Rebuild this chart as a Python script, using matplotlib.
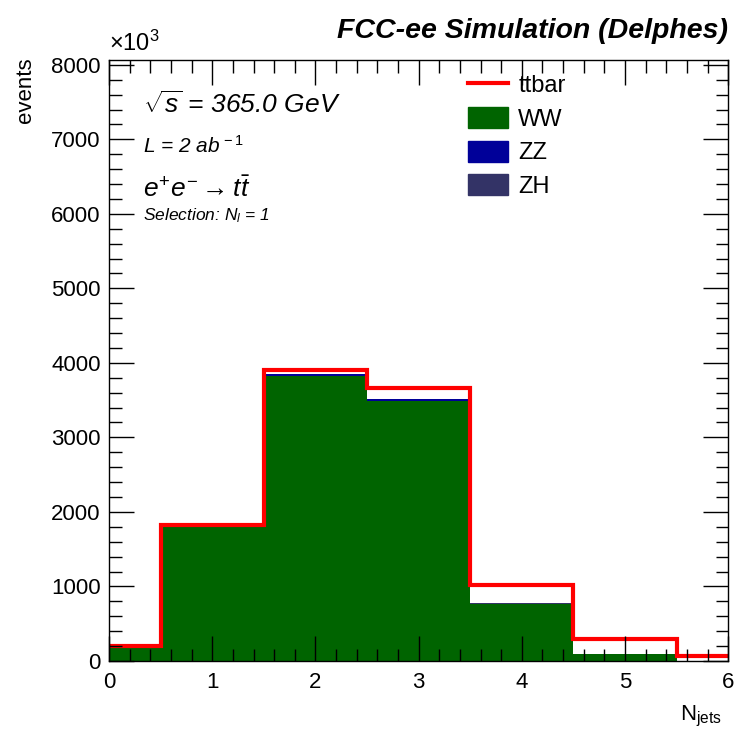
import numpy as np
import matplotlib.pyplot as plt
from matplotlib.patches import Patch
from matplotlib.lines import Line2D
from matplotlib.ticker import MultipleLocator

plt.rcParams['font.family'] = ['Liberation Sans', 'DejaVu Sans']
plt.rcParams['mathtext.fontset'] = 'custom'
plt.rcParams['mathtext.rm'] = 'Liberation Sans'
plt.rcParams['mathtext.it'] = 'Liberation Sans:italic'
plt.rcParams['mathtext.bf'] = 'Liberation Sans:bold'

# N_jets bins (centred on integers), values in units of 10^3 events
njets = [0, 1, 2, 3, 4, 5, 6]
WW = [172, 1793, 3826, 3492, 758, 88, 4]
ZZ = [8, 10, 22, 20, 12, 3, 1]
ZH = [3, 3, 4, 3, 3, 1, 0]
ttbar = [20, 13, 54, 147, 244, 202, 65]

edges = np.append(np.array(njets) - 0.5, njets[-1] + 0.5)
ww = np.array(WW)
zz = ww + np.array(ZZ)
zh = zz + np.array(ZH)
tot = zh + np.array(ttbar)

fig = plt.figure(figsize=(7.37, 7.36), dpi=100)
ax = fig.add_axes([0.148, 0.102, 0.840, 0.816])

ax.stairs(zh, edges, fill=True, color='#333366')
ax.stairs(zz, edges, fill=True, color='#000099')
ax.stairs(ww, edges, fill=True, color='#006400')
ax.stairs(tot, edges, baseline=0, fill=False, color='red', lw=3)

ax.set_xlim(0, 6)
ax.set_ylim(0, 8060)
ax.xaxis.set_major_locator(MultipleLocator(1))
ax.xaxis.set_minor_locator(MultipleLocator(0.2))
ax.yaxis.set_major_locator(MultipleLocator(1000))
ax.yaxis.set_minor_locator(MultipleLocator(200))
ax.tick_params(which='both', direction='in', top=True, right=True, labelsize=16, width=1)
ax.tick_params(which='major', length=18)
ax.tick_params(which='minor', length=9)
ax.tick_params(axis='x', pad=8)
ax.tick_params(axis='y', pad=6)
for s in ax.spines.values():
    s.set_linewidth(1)

ax.text(0.0, 1.008, r'$\times$10$^3$', transform=ax.transAxes, fontsize=17, ha='left', va='bottom')
fig.text(0.035, 0.922, 'events', rotation=90, fontsize=16, ha='center', va='top')
fig.text(0.98, 0.01, r'N$_{\mathrm{jets}}$', fontsize=16, ha='right', va='bottom')
fig.text(0.988, 0.958, 'FCC-ee Simulation (Delphes)', fontsize=20.5, fontweight='bold',
         fontstyle='italic', ha='right', va='center')

ax.text(0.055, 0.926, r'$\sqrt{s}$ = 365.0 GeV', transform=ax.transAxes, fontsize=19,
        fontstyle='italic', ha='left', va='center')
ax.text(0.055, 0.858, r'L = 2 ab$^{\mathit{\,-1}}$', transform=ax.transAxes, fontsize=15,
        fontstyle='italic', ha='left', va='center')
ax.text(0.055, 0.785, r'$e^{+}e^{-} \rightarrow t\bar{t}$', transform=ax.transAxes, fontsize=19,
        ha='left', va='center')
ax.text(0.055, 0.741, r'Selection: N$_{\mathit{l}}$ = 1', transform=ax.transAxes, fontsize=12.5,
        fontstyle='italic', ha='left', va='center')

handles = [Line2D([], [], color='red', lw=3),
           Patch(facecolor='#006400', edgecolor='#006400'),
           Patch(facecolor='#000099', edgecolor='#000099'),
           Patch(facecolor='#333366', edgecolor='#333366')]
ax.legend(handles, ['ttbar', 'WW', 'ZZ', 'ZH'], loc='upper left', bbox_to_anchor=(0.58, 0.978),
          frameon=False, fontsize=17, handlelength=1.7, handleheight=1.0,
          labelspacing=0.42, handletextpad=0.42, borderpad=0, borderaxespad=0)

fig.savefig('out.png', dpi=100)
